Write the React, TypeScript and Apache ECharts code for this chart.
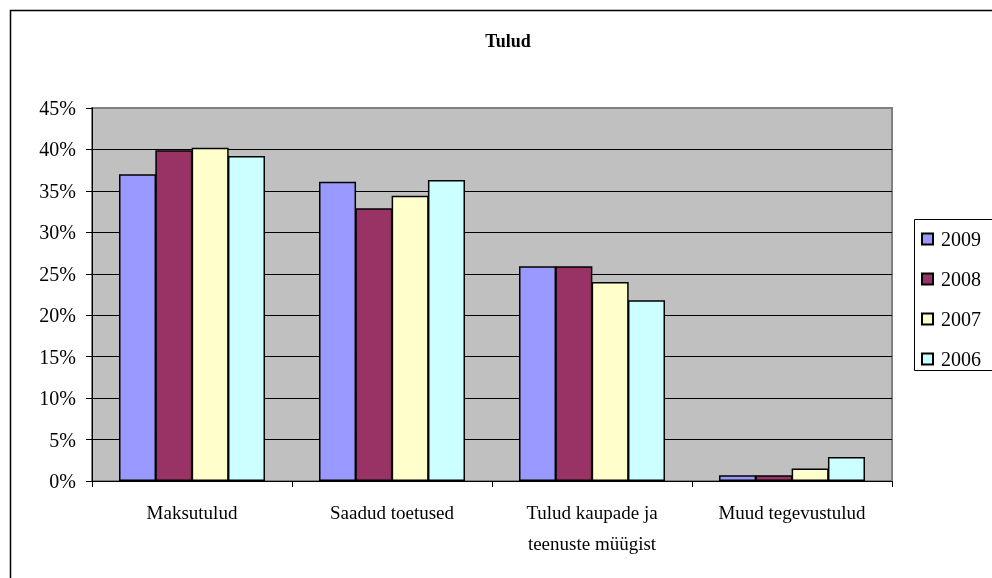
import React, { useEffect, useRef } from "react";
import * as echarts from "echarts";

const categories = ["Maksutulud", "Saadud toetused", "Tulud kaupade ja\nteenuste müügist", "Muud tegevustulud"];
const years = ["2009", "2008", "2007", "2006"];
const values2009 = [37.0, 36.1, 25.9, 0.7];
const values2008 = [39.9, 32.9, 25.9, 0.7];
const values2007 = [40.2, 34.4, 24.0, 1.5];
const values2006 = [39.2, 36.3, 21.8, 2.9];
const yTicks = { min: 0, max: 45, interval: 5 };
const colors = ["#9999FF", "#993366", "#FFFFCC", "#CCFFFF"];

const FONT = "Liberation Serif";

export default function App() {
  const ref = useRef<HTMLDivElement>(null);
  useEffect(() => {
    if (!ref.current) return;
    const chart = echarts.init(ref.current, undefined, { renderer: "svg" });
    const seriesValues = [values2009, values2008, values2007, values2006];
    chart.setOption({
      animation: false,
      graphic: [
        {
          type: "rect",
          shape: { x: 10.5, y: 10.5, width: 1100, height: 700 },
          style: { fill: "none", stroke: "#000", lineWidth: 1.5 },
          silent: true,
        },
        {
          type: "rect",
          shape: { x: 914.5, y: 219.5, width: 100, height: 151 },
          style: { fill: "none", stroke: "#000", lineWidth: 1 },
          silent: true,
        },
        {
          type: "text",
          x: 508,
          y: 41,
          style: {
            text: "Tulud",
            fontFamily: FONT,
            fontWeight: "bold",
            fontSize: 18,
            fill: "#000",
            align: "center",
            verticalAlign: "middle",
          },
        },
      ],
      legend: {
        orient: "vertical",
        left: 921,
        top: 229,
        padding: 0,
        itemWidth: 11,
        itemHeight: 11,
        itemGap: 20,
        icon: "rect",
        data: years,
        textStyle: { fontFamily: FONT, fontSize: 20, lineHeight: 18, color: "#000", padding: [0, 0, 0, 3] },
      },
      grid: { left: 92, top: 108, width: 800, height: 373, show: true, backgroundColor: "#C0C0C0", borderColor: "#808080", borderWidth: 2 },
      xAxis: {
        type: "category",
        data: categories,
        boundaryGap: true,
        axisLine: { show: true, lineStyle: { color: "#000", width: 1 } },
        axisTick: { show: true, length: 6, lineStyle: { color: "#000" } },
        axisLabel: { fontFamily: FONT, fontSize: 19, color: "#000", margin: 16, lineHeight: 31, interval: 0 },
      },
      yAxis: {
        type: "value",
        min: yTicks.min,
        max: yTicks.max,
        interval: yTicks.interval,
        axisLine: { show: true, lineStyle: { color: "#000", width: 1 } },
        axisTick: { show: true, length: 6, lineStyle: { color: "#000" } },
        axisLabel: { fontFamily: FONT, fontSize: 20, color: "#000", margin: 16, formatter: "{value}%" },
        splitLine: { show: true, showMinLine: false, showMaxLine: false, lineStyle: { color: "#000", width: 1 } },
      },
      series: years.map((y, i) => ({
        name: y,
        type: "bar",
        data: seriesValues[i],
        barGap: "-2%",
        barCategoryGap: "27%",
        itemStyle: { color: colors[i], borderColor: "#000", borderWidth: 1.5 },
      })),
    });
    return () => chart.dispose();
  }, []);
  return <div ref={ref} style={{ position: "fixed", left: 0, top: 0, width: 992, height: 578 }} />;
}
